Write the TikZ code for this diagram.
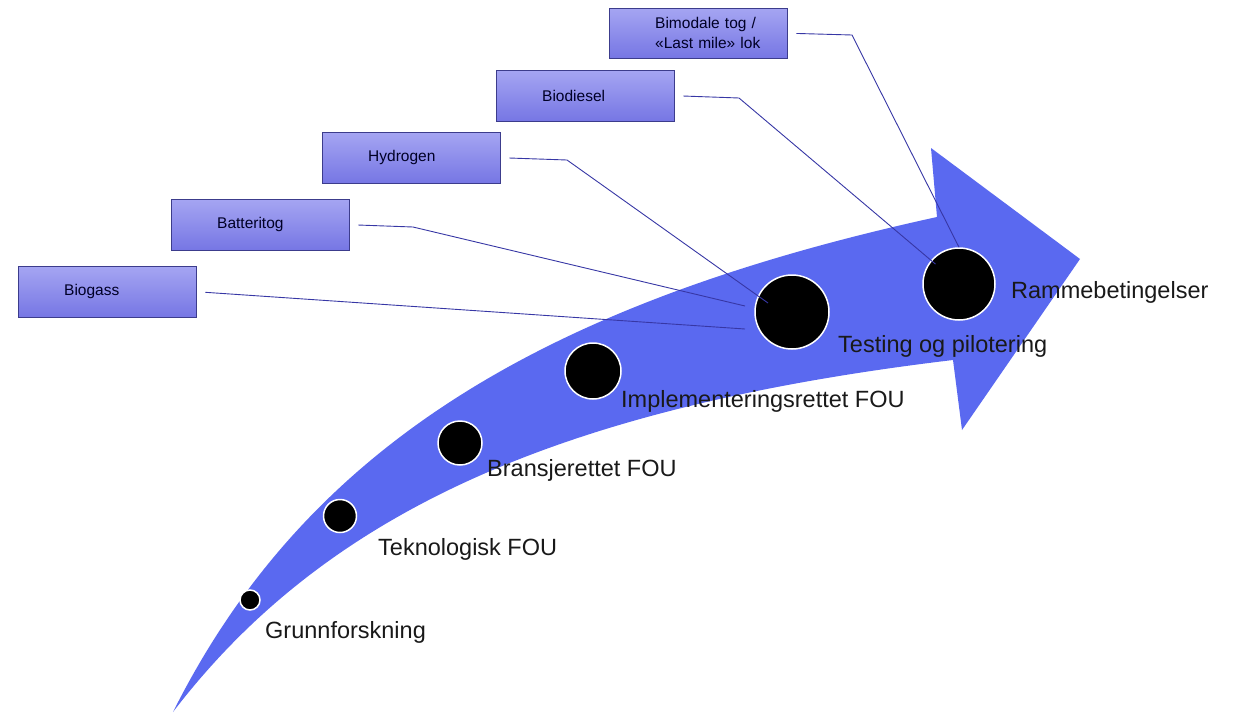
\documentclass[tikz,border=0pt]{standalone}
\usepackage{fontspec}
\setmainfont{Liberation Sans}
\usetikzlibrary{calc}
\definecolor{pilblaa}{RGB}{90,105,240}
\definecolor{boxtopp}{RGB}{165,165,242}
\definecolor{boxbunn}{RGB}{118,118,228}
\definecolor{boxkant}{RGB}{60,60,140}
\definecolor{linje}{RGB}{55,55,165}
\tikzset{
 fase/.style={circle, fill=black, draw=white, line width=1.5pt, inner sep=0},
 fasetekst/.style={anchor=base west, inner sep=0, font=\fontsize{23.5}{28}\selectfont, text=black!90},
 tiltak/.style={draw=boxkant, top color=boxtopp, bottom color=boxbunn, anchor=north west, minimum height=51pt, text width=86pt, inner xsep=46pt, inner ysep=0pt, align=left, font=\fontsize{15.5}{20}\selectfont, text=black!85!blue},
 kobling/.style={draw=linje, line width=0.9pt, shorten <=9pt},
}

\begin{document}
\begin{tikzpicture}[x=1pt, y=-1pt]
\useasboundingbox (0,0) rectangle (1240,715);
% pila
\fill[pilblaa] (173,712) .. controls (305,449) and (539,304) .. (937,217)
  -- (931,148) -- (1080,259) -- (962,430) -- (953,360)
  .. controls (560,407) and (326,512) .. (173,712) -- cycle;
% faser
\node[fase, minimum size=20pt] (grunn) at (250,600) {};
\node[fase, minimum size=33pt] (tekno) at (340,516) {};
\node[fase, minimum size=44pt] (bransje) at (460,443) {};
\node[fase, minimum size=56pt] (impl) at (593,371) {};
\node[fase, minimum size=74pt] (test) at (792,312) {};
\node[fase, minimum size=72pt] (ramme) at (959,284) {};
\node[fasetekst] (lgrunn) at (265,638) {Grunnforskning};
\node[fasetekst] (ltekno) at (378,555) {Teknologisk FOU};
\node[fasetekst] (lbransje) at (487,476) {Bransjerettet FOU};
\node[fasetekst] (limpl) at (621,407) {Implementeringsrettet FOU};
\node[fasetekst] (ltest) at (838,352) {Testing og pilotering};
\node[fasetekst] (lramme) at (1011,298) {Rammebetingelser};
% tiltak
\node[tiltak, minimum height=50pt] (bimodal) at (609,8) {Bimodale~tog~/\\«Last~mile»~lok};
\node[tiltak] (biodiesel) at (496,70) {Biodiesel};
\node[tiltak] (hydrogen) at (322,132) {Hydrogen};
\node[tiltak] (batteri) at (171,199) {Batteritog};
\node[tiltak] (biogass) at (18,266) {Biogass};
\coordinate (k1) at (852,35);
\coordinate (k2) at (739,98);
\coordinate (k3) at (567,160);
\coordinate (k4) at (413,227);
\draw[kobling] (bimodal.east) -- (k1) -- (ramme.north);
\draw[kobling, shorten >=-6pt] (biodiesel.east) -- (k2) -- (ramme);
\draw[kobling] (hydrogen.east) -- (k3) -- ($(test)+(-24,-9)$);
\draw[kobling] (batteri.east) -- (k4) -- ($(test)+(-47,-6)$);
\draw[kobling] (biogass.east) -- ($(test)+(-47,17)$);
\end{tikzpicture}
\end{document}
